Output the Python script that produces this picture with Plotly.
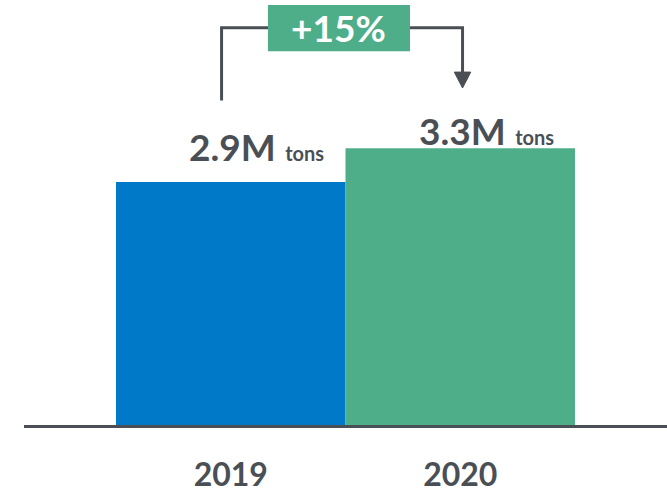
import plotly.graph_objects as go

years = ["2019", "2020"]
values = [2.9, 3.3]
value_labels = ["2.9M", "3.3M"]
unit = "tons"
change_label = "+15%"
colors = ["#0079C9", "#4FAE8A"]
dark = "#4A4F55"
FONT = "Lato"

xs = list(range(len(years)))
fig = go.Figure(go.Bar(x=xs, y=values, width=1.0, marker=dict(color=colors, line=dict(width=0)),
                       hoverinfo="skip"))

# label placement (styling)
label_dx = -0.19
label_yshift = [11, -7]
for i, (v, t) in enumerate(zip(values, value_labels)):
    fig.add_annotation(x=xs[i] + label_dx, y=v, xref="x", yref="y", xanchor="left", yanchor="bottom",
                       yshift=label_yshift[i], showarrow=False,
                       text=f"<b>{t}</b> <span style='font-size:20px'><b>{unit}</b></span>",
                       font=dict(family=FONT, size=37, color=dark))

# bracket
top_y = 4.74
left_x, right_x = xs[0] - 0.04, xs[1] + 0.01
left_bottom = 3.87
tip_y = 4.02
fig.add_shape(type="path", xref="x", yref="y",
              path=f"M {left_x},{left_bottom} L {left_x},{top_y} L {right_x},{top_y} L {right_x},{tip_y+0.15}",
              line=dict(color=dark, width=3))
fig.add_shape(type="path", xref="x", yref="y",
              path=f"M {right_x-0.036},{tip_y+0.19} L {right_x+0.036},{tip_y+0.19} L {right_x},{tip_y} Z",
              fillcolor=dark, line=dict(color=dark, width=1))
# change box
fig.add_shape(type="rect", xref="x", yref="y", x0=0.162, x1=0.781, y0=4.46, y1=5.01,
              fillcolor=colors[1], line=dict(width=0))
fig.add_annotation(x=(0.162 + 0.781) / 2, y=(4.46 + 5.01) / 2, xref="x", yref="y", showarrow=False,
                   text=f"<b>{change_label}</b>", font=dict(family=FONT, size=37, color="white"),
                   yshift=1)

fig.update_layout(
    width=667, height=493, margin=dict(l=24, r=0, t=0, b=63),
    plot_bgcolor="white", paper_bgcolor="white", showlegend=False,
    xaxis=dict(range=[-0.9009, 1.9009], tickvals=xs, ticktext=[f"<b>{y}</b>" for y in years],
               showline=True, linecolor=dark, linewidth=3, showgrid=False, zeroline=False,
               ticks="outside", ticklen=0, tickcolor="white", ticklabelstandoff=20,
               tickfont=dict(family=FONT, size=32, color=dark), fixedrange=True),
    yaxis=dict(range=[0, 5.07], visible=False, fixedrange=True),
)
fig.write_html("out.html", config={"displayModeBar": False})
